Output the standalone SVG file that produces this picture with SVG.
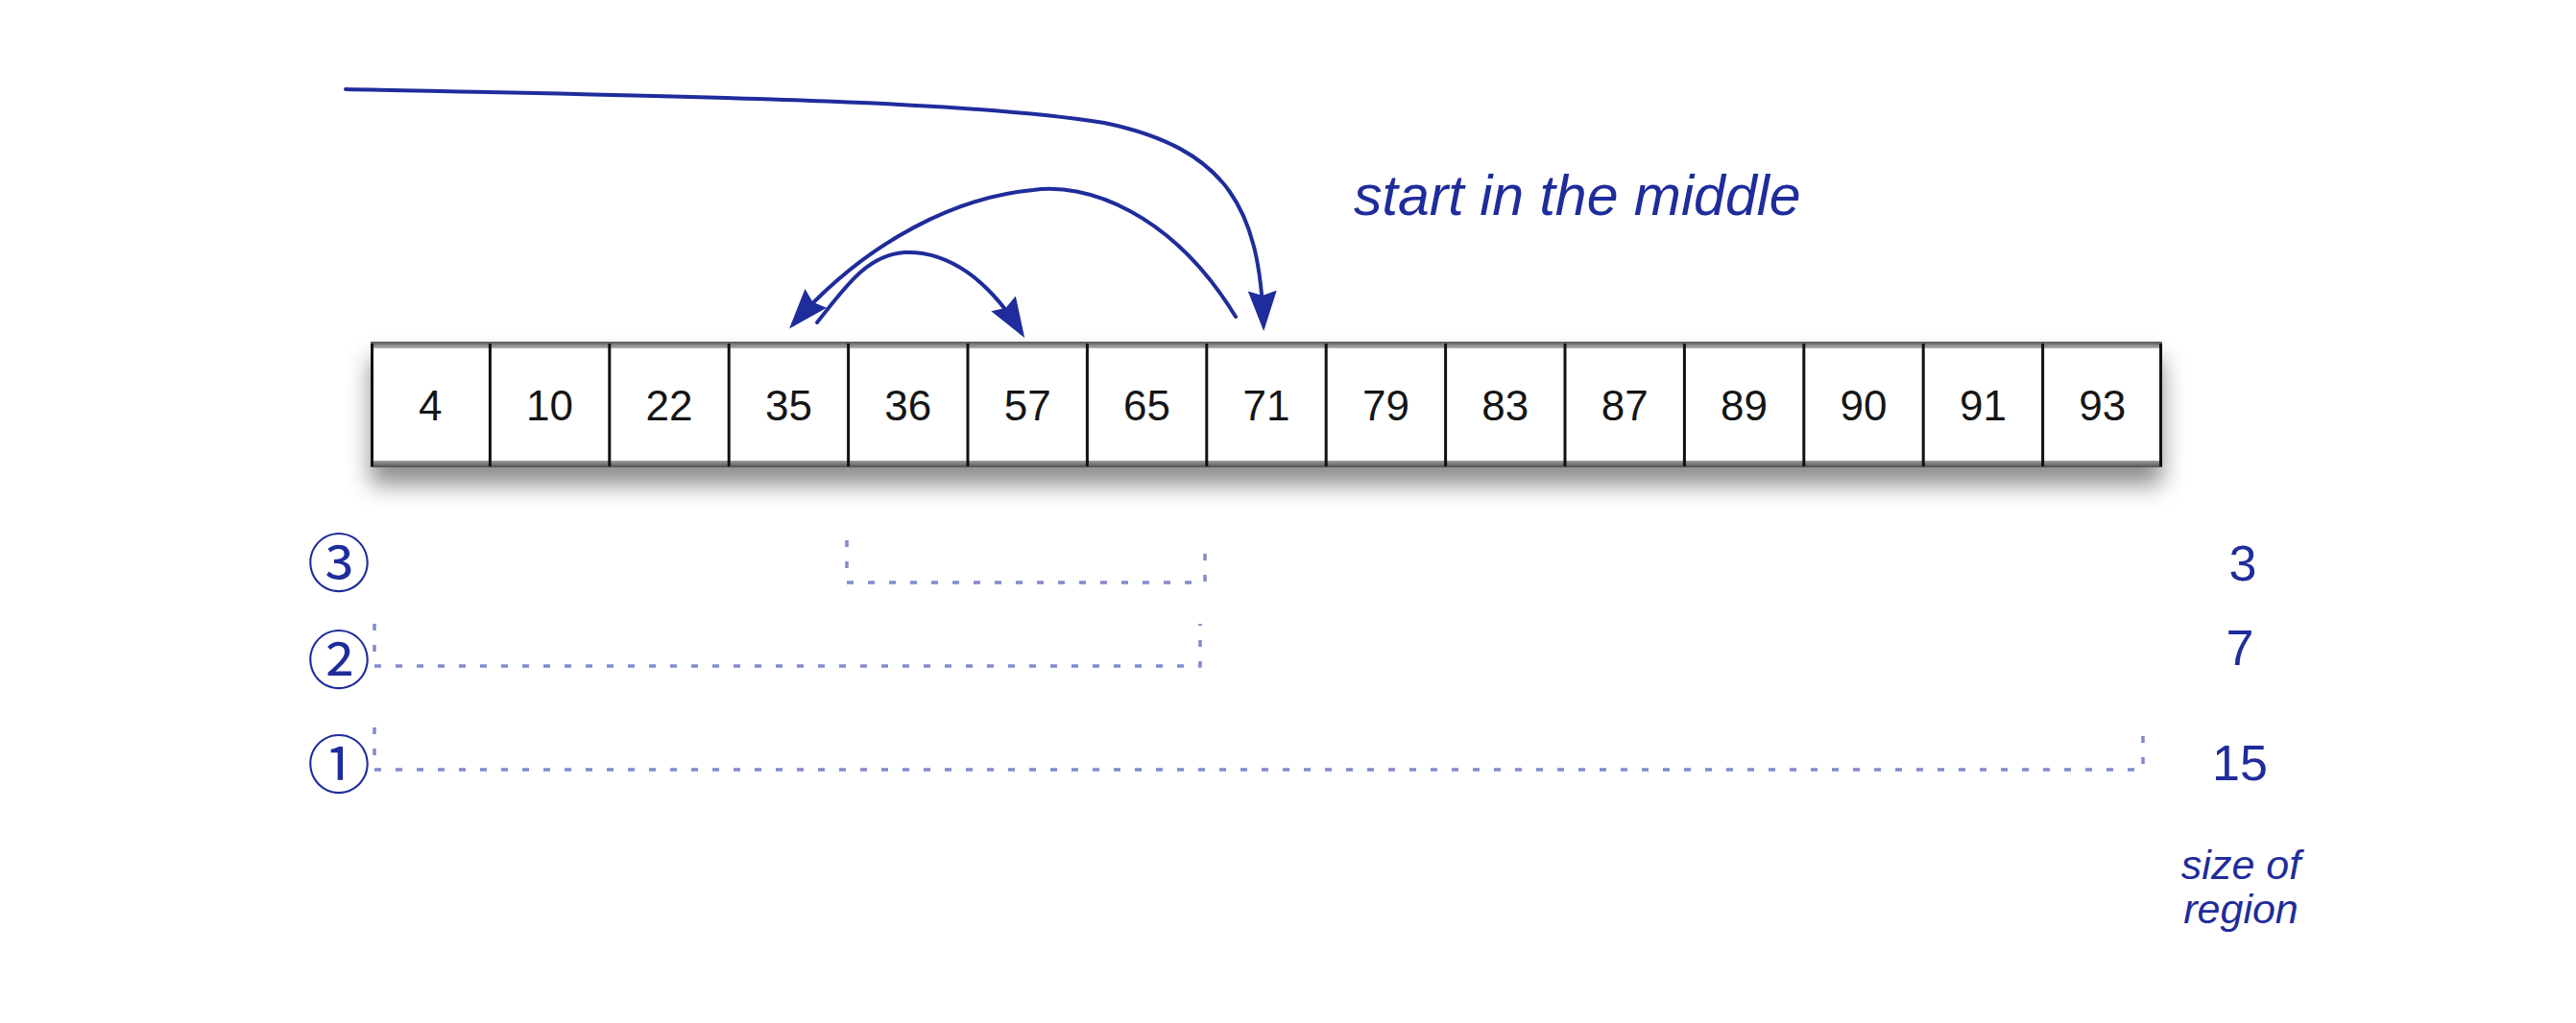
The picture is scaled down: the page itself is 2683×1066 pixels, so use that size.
<svg xmlns="http://www.w3.org/2000/svg" width="2683" height="1066" viewBox="0 0 2683 1066">
<style>
.num{font-family:"Liberation Sans",Arial,Helvetica,sans-serif;font-size:44px;fill:#151515;text-anchor:middle}
.lbl{font-family:"Liberation Sans",Arial,Helvetica,sans-serif;fill:#1f2c9b}
.it{font-style:italic}
.circ{font-family:"Noto Sans CJK JP","DejaVu Sans",sans-serif;font-size:66px;fill:#1f2c9b;text-anchor:middle}
.arrow{fill:none;stroke:#1f2c9b;stroke-width:4;stroke-linecap:round;marker-end:url(#ah)}
.br{fill:none;stroke:#828acd;stroke-width:3.5;stroke-dasharray:7 15}
.cell{fill:#fff}
.div{stroke:#111;stroke-width:3}
</style>
<defs>
<marker id="ah" markerUnits="userSpaceOnUse" viewBox="0 0 42 30" markerWidth="42" markerHeight="30" refX="36" refY="15" orient="auto">
<path d="M0,0 L42,15 L0,30 L5,15 z" fill="#1f2c9b"/>
</marker>
<filter id="sh" x="-5%" y="-40%" width="110%" height="200%">
<feDropShadow dx="0" dy="18" stdDeviation="12" flood-color="#000" flood-opacity="0.45"/>
</filter>
<linearGradient id="topb" x1="0" y1="0" x2="0" y2="1">
<stop offset="0" stop-color="#555"/><stop offset="1" stop-color="#b5b5b5"/>
</linearGradient>
<linearGradient id="botb" x1="0" y1="0" x2="0" y2="1">
<stop offset="0" stop-color="#a0a0a0"/><stop offset="1" stop-color="#505050"/>
</linearGradient>
</defs>
<rect width="2683" height="1066" fill="#fff"/>

<rect x="386" y="356" width="1866" height="131" fill="#fff" filter="url(#sh)"/>

<g id="cell-4"><rect class="cell" x="386" y="356" width="124.4" height="131"/><text class="num" x="448.2" y="438">4</text></g>
<g id="cell-10"><rect class="cell" x="510.4" y="356" width="124.4" height="131"/><text class="num" x="572.6" y="438">10</text></g>
<g id="cell-22"><rect class="cell" x="634.8" y="356" width="124.4" height="131"/><text class="num" x="697" y="438">22</text></g>
<g id="cell-35"><rect class="cell" x="759.2" y="356" width="124.4" height="131"/><text class="num" x="821.4" y="438">35</text></g>
<g id="cell-36"><rect class="cell" x="883.6" y="356" width="124.4" height="131"/><text class="num" x="945.8" y="438">36</text></g>
<g id="cell-57"><rect class="cell" x="1008" y="356" width="124.4" height="131"/><text class="num" x="1070.2" y="438">57</text></g>
<g id="cell-65"><rect class="cell" x="1132.4" y="356" width="124.4" height="131"/><text class="num" x="1194.6" y="438">65</text></g>
<g id="cell-71"><rect class="cell" x="1256.8" y="356" width="124.4" height="131"/><text class="num" x="1319" y="438">71</text></g>
<g id="cell-79"><rect class="cell" x="1381.2" y="356" width="124.4" height="131"/><text class="num" x="1443.4" y="438">79</text></g>
<g id="cell-83"><rect class="cell" x="1505.6" y="356" width="124.4" height="131"/><text class="num" x="1567.8" y="438">83</text></g>
<g id="cell-87"><rect class="cell" x="1630" y="356" width="124.4" height="131"/><text class="num" x="1692.2" y="438">87</text></g>
<g id="cell-89"><rect class="cell" x="1754.4" y="356" width="124.4" height="131"/><text class="num" x="1816.6" y="438">89</text></g>
<g id="cell-90"><rect class="cell" x="1878.8" y="356" width="124.4" height="131"/><text class="num" x="1941" y="438">90</text></g>
<g id="cell-91"><rect class="cell" x="2003.2" y="356" width="124.4" height="131"/><text class="num" x="2065.4" y="438">91</text></g>
<g id="cell-93"><rect class="cell" x="2127.6" y="356" width="124.4" height="131"/><text class="num" x="2189.8" y="438">93</text></g>

<g id="array-frame">
<rect x="386" y="356" width="1866" height="7" fill="url(#topb)"/>
<rect x="386" y="480" width="1866" height="7" fill="url(#botb)"/>
<path class="div" d="M387.5,358V486 M510.4,358V486 M634.8,358V486 M759.2,358V486 M883.6,358V486 M1008,358V486 M1132.4,358V486 M1256.8,358V486 M1381.2,358V486 M1505.6,358V486 M1630,358V486 M1754.4,358V486 M1878.8,358V486 M2003.2,358V486 M2127.6,358V486 M2250.5,358V486"/>
</g>

<g id="connectors">
<path class="arrow" d="M360,93 C700,100 1000,104 1150,128 C1280,155 1312,220 1316,339"/>
<path class="arrow" d="M1287,330 C1220,220 1130,190 1076,198 C1000,205 905,248 826,338"/>
<path class="arrow" d="M851,336 C880,300 902,266 942,263 C988,261 1030,292 1064,347"/>
</g>

<g id="label-start"><text class="lbl it" x="1410" y="224" font-size="59">start in the middle</text></g>

<g id="brackets">
<path class="br" d="M882,563 V607 H1255 V563"/>
<path class="br" d="M390,650 V694 H1250 V650"/>
<path class="br" d="M390,758 V802 H2232 V758"/>
</g>

<g id="step-3"><text class="circ" x="353" y="611">③</text></g>
<g id="step-2"><text class="circ" x="353" y="712">②</text></g>
<g id="step-1"><text class="circ" x="353" y="821">①</text></g>

<g id="sizes">
<text class="lbl" x="2336" y="605" font-size="52" text-anchor="middle">3</text>
<text class="lbl" x="2333" y="693" font-size="52" text-anchor="middle">7</text>
<text class="lbl" x="2333" y="813" font-size="52" text-anchor="middle">15</text>
<text class="lbl it" x="2334" y="916" font-size="43" text-anchor="middle">size of</text>
<text class="lbl it" x="2334" y="962" font-size="43" text-anchor="middle">region</text>
</g>
</svg>
